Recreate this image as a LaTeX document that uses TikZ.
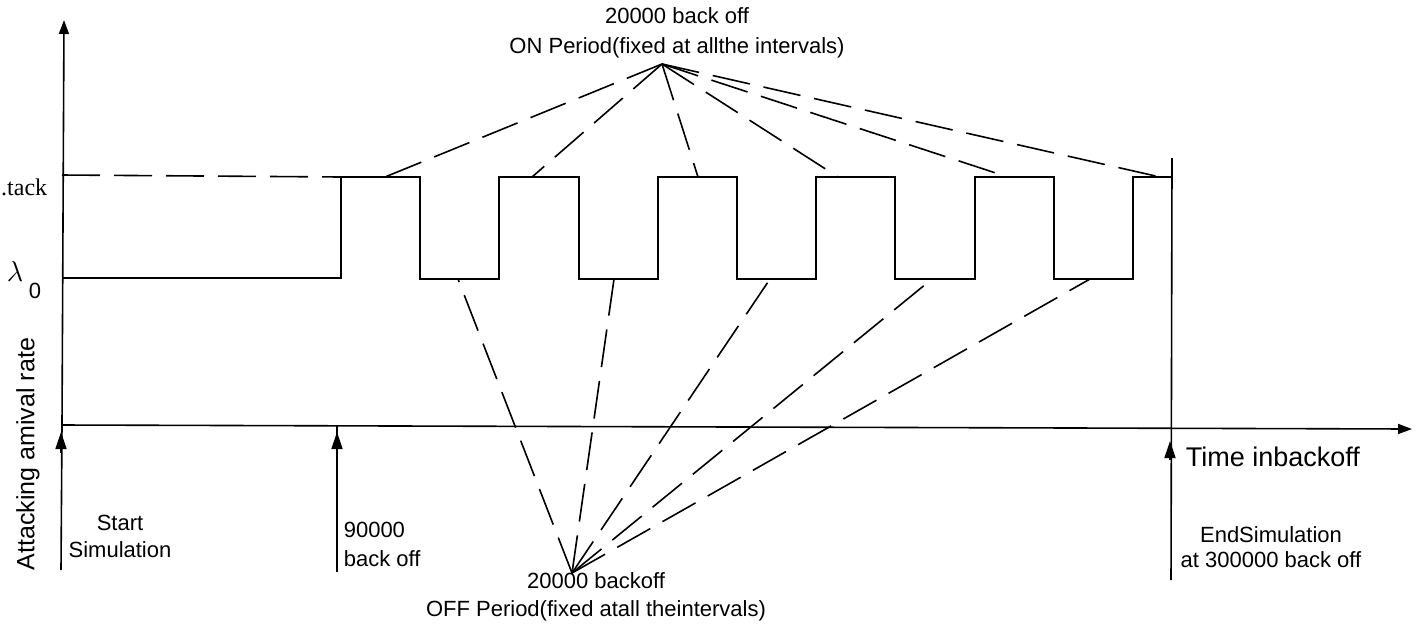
\documentclass[tikz,border=0pt]{standalone}
\usepackage{fontspec}
\setmainfont{Liberation Sans}
\newfontfamily\serifx{Liberation Serif}
\usetikzlibrary{arrows.meta}
\begin{document}
\begin{tikzpicture}[x=0.5pt,y=-0.5pt, line width=0.8pt,
  dashln/.style={dash pattern=on 19pt off 7pt},
  lbl/.style={font=\fontsize{11}{14}\selectfont, inner sep=0pt, align=center},
  tickmark/.style={-{Triangle[width=5.5pt,length=8.5pt]}},
  axisarrow/.style={-{Triangle[width=5pt,length=7pt]}}
]
\useasboundingbox (0,0) rectangle (1416,633);

% axes
\coordinate (O) at (62,425);
\coordinate (ytop) at (64,20);
\coordinate (ybot) at (61,570);
\coordinate (xend) at (1412,429);
\draw (ybot) -- (O);
\draw[axisarrow] (O) -- (ytop);
\draw[axisarrow] (O) -- (xend);

% vertical markers
\coordinate (s0) at (61,453);
\coordinate (s0t) at (61,432);
\draw[tickmark] (s0) -- (s0t);
\coordinate (m90a) at (337,572);
\coordinate (m90b) at (337,426);
\coordinate (m90s) at (337,453);
\coordinate (m90t) at (337,432);
\draw (m90a) -- (m90b);
\draw[tickmark] (m90s) -- (m90t);
\coordinate (enda) at (1171,580);
\coordinate (endb) at (1172,158);
\coordinate (ends) at (1170,460);
\coordinate (endt) at (1170,441);
\draw (enda) -- (endb);
\draw[tickmark] (ends) -- (endt);

% waveform
\coordinate (w0) at (62,278);
\draw (w0) -| (341,177) -| (420,279) -| (499,177) -| (579,279) -| (658,177)
  -| (737,279) -| (816,177) -| (895,279) -| (975,177) -| (1054,279) -| (1133,177) -- (1172,177);
\coordinate (hd0) at (62,175);
\coordinate (hd1) at (341,177);
\draw[dashln] (hd0) -- (hd1);

% ON period fan
\coordinate (onapex) at (662,64);
\foreach \x [count=\i] in {385,532,698,838,1008,1160}{
  \coordinate (on\i) at (\x,177);
  \draw[dashln] (onapex) -- (on\i);
}
% OFF period fan
\coordinate (offapex) at (572,573);
\foreach \x [count=\i] in {458,614,770,932,1090}{
  \coordinate (off\i) at (\x,279);
  \draw[dashln] (offapex) -- (off\i);
}

% labels
\node[lbl, font=\fontsize{11}{15}\selectfont] (ontxt) at (677,33) {20000 back off\\ON Period(fixed at allthe intervals)};
\node[lbl, font=\fontsize{11}{14}\selectfont] (offtxt) at (596,597) {20000 backoff\\OFF Period(fixed atall theintervals)};
\node[lbl, font=\fontsize{11}{13.5}\selectfont] (start) at (120,536) {Start\\Simulation};
\node[lbl, font=\fontsize{11}{14.5}\selectfont, align=left, anchor=west] (n90) at (343,544) {90000\\back off};
\node[lbl, font=\fontsize{11}{12.5}\selectfont] (endtxt) at (1271,547) {EndSimulation\\at 300000 back off};
\node[lbl, font=\fontsize{13.5}{15}\selectfont, anchor=west] (time) at (1185,457) {Time inbackoff};
\node[lbl, font=\fontsize{12.5}{14}\selectfont, rotate=90] (ylab) at (28,454) {Attacking amival rate};
\node[lbl, font=\serifx\fontsize{12}{14}\selectfont, anchor=east] (tack) at (48,187) {.tack};
\node[lbl, font=\fontsize{14}{16}\selectfont] (lam) at (15,271) {$\lambda$};
\node[lbl, font=\fontsize{11}{12}\selectfont] (lam0) at (35,291) {0};
\end{tikzpicture}
\end{document}
